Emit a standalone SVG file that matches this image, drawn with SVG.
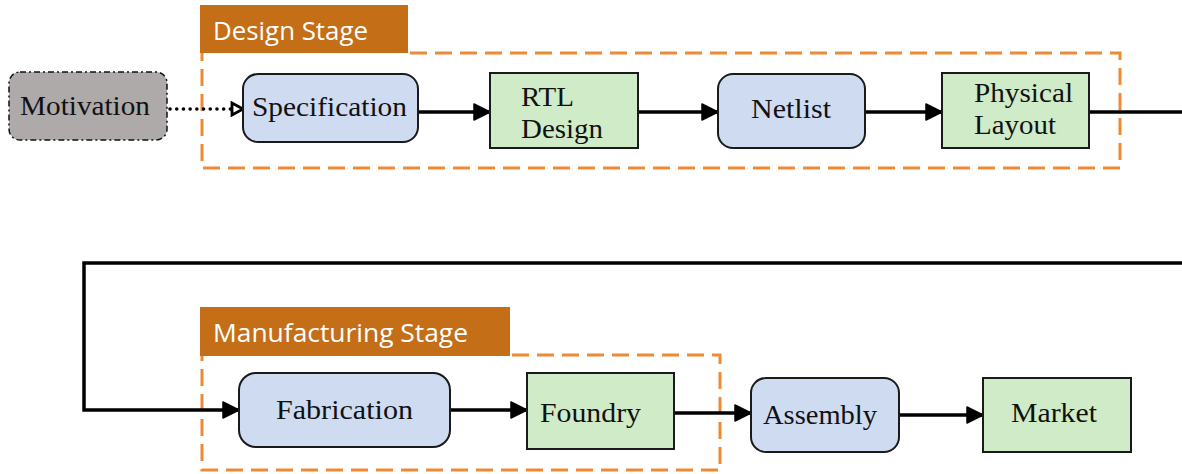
<svg xmlns="http://www.w3.org/2000/svg" width="1182" height="474" viewBox="0 0 1182 474">
  <defs>
    <marker id="arrow" viewBox="0 0 18 18" markerWidth="18" markerHeight="18" refX="17" refY="9" orient="auto" markerUnits="userSpaceOnUse">
      <path d="M1,1 L17,9 L1,17 Z" fill="#000" stroke="#000" stroke-width="1.5" stroke-linejoin="round"/>
    </marker>
    <marker id="open-arrow" viewBox="0 0 15 16" markerWidth="15" markerHeight="16" refX="13" refY="8" orient="auto" markerUnits="userSpaceOnUse">
      <path d="M2,2 L13,8 L2,14 Z" fill="#fff" stroke="#000" stroke-width="2.8" stroke-linejoin="miter"/>
    </marker>
    <style>
      .stage-tab { fill: #C46E18; }
      .stage-title { font-family: "Open Sans", "Liberation Sans", sans-serif; font-size: 25px; fill: #fff; }
      .stage-box { fill: none; stroke: #EE8A33; stroke-width: 3; stroke-dasharray: 17 8; }
      .proc { fill: #CEDBF1; stroke: #1a1a1a; stroke-width: 2; }
      .res { fill: #D0EBC8; stroke: #1a1a1a; stroke-width: 2; }
      .label { font-family: "Liberation Serif", "DejaVu Serif", serif; font-size: 27px; fill: #111; }
      .link { fill: none; stroke: #000; stroke-width: 3.5; }
    </style>
  </defs>

  <rect width="1182" height="474" fill="#fff"/>

  <!-- Design stage frame -->
  <g id="design-stage">
    <path class="stage-box" d="M410,53 L1120,53 L1120,168 L202,168 L202,53"/>
    <rect class="stage-tab" x="200" y="5" width="208" height="48"/>
    <text class="stage-title" x="213" y="40" textLength="155" lengthAdjust="spacingAndGlyphs">Design Stage</text>
  </g>

  <!-- Manufacturing stage frame -->
  <g id="manufacturing-stage">
    <path class="stage-box" d="M512,355 L720,355 L720,470 L202,470 L202,355"/>
    <rect class="stage-tab" x="200" y="307" width="310" height="49"/>
    <text class="stage-title" x="213" y="342" textLength="255" lengthAdjust="spacingAndGlyphs">Manufacturing Stage</text>
  </g>

  <!-- Connectors -->
  <g id="connectors">
    <line x1="170" y1="109" x2="243" y2="109" stroke="#000" stroke-width="3.5" stroke-linecap="round" stroke-dasharray="0.1 6.6" marker-end="url(#open-arrow)"/>
    <line class="link" x1="418" y1="112" x2="490" y2="112" marker-end="url(#arrow)"/>
    <line class="link" x1="638" y1="112" x2="718" y2="112" marker-end="url(#arrow)"/>
    <line class="link" x1="865" y1="112" x2="942" y2="112" marker-end="url(#arrow)"/>
    <line class="link" x1="1089" y1="112" x2="1182" y2="112"/>
    <path class="link" d="M1182,263 L84,263 L84,410 L239,410" marker-end="url(#arrow)"/>
    <line class="link" x1="450" y1="410" x2="527" y2="410" marker-end="url(#arrow)"/>
    <line class="link" x1="674" y1="413" x2="751" y2="413" marker-end="url(#arrow)"/>
    <line class="link" x1="899" y1="415" x2="983" y2="415" marker-end="url(#arrow)"/>
  </g>

  <g id="motivation">
    <rect x="9" y="72" width="158" height="68" rx="11" fill="#AEAAAA" stroke="#111" stroke-width="1.5" stroke-dasharray="6 3 2 3"/>
    <text class="label" x="20" y="115" textLength="130" lengthAdjust="spacingAndGlyphs">Motivation</text>
  </g>

  <g id="specification">
    <rect class="proc" x="243" y="74" width="175" height="68" rx="15"/>
    <text class="label" x="252" y="116" textLength="155" lengthAdjust="spacingAndGlyphs">Specification</text>
  </g>

  <g id="rtl-design">
    <rect class="res" x="490" y="73" width="148" height="75"/>
    <text class="label" x="521" y="106" textLength="53" lengthAdjust="spacingAndGlyphs">RTL</text>
    <text class="label" x="521" y="138" textLength="82" lengthAdjust="spacingAndGlyphs">Design</text>
  </g>

  <g id="netlist">
    <rect class="proc" x="718" y="74" width="147" height="74" rx="15"/>
    <text class="label" x="751" y="118" textLength="80" lengthAdjust="spacingAndGlyphs">Netlist</text>
  </g>

  <g id="physical-layout">
    <rect class="res" x="942" y="73" width="147" height="75"/>
    <text class="label" x="974" y="102" textLength="99" lengthAdjust="spacingAndGlyphs">Physical</text>
    <text class="label" x="974" y="134" textLength="82" lengthAdjust="spacingAndGlyphs">Layout</text>
  </g>

  <g id="fabrication">
    <rect class="proc" x="239" y="373" width="211" height="74" rx="17"/>
    <text class="label" x="276" y="419" textLength="137" lengthAdjust="spacingAndGlyphs">Fabrication</text>
  </g>

  <g id="foundry">
    <rect class="res" x="527" y="373" width="147" height="76"/>
    <text class="label" x="540" y="422" textLength="101" lengthAdjust="spacingAndGlyphs">Foundry</text>
  </g>

  <g id="assembly">
    <rect class="proc" x="751" y="378" width="148" height="74" rx="15"/>
    <text class="label" x="763" y="424" textLength="114" lengthAdjust="spacingAndGlyphs">Assembly</text>
  </g>

  <g id="market">
    <rect class="res" x="983" y="378" width="148" height="74"/>
    <text class="label" x="1011" y="422" textLength="86" lengthAdjust="spacingAndGlyphs">Market</text>
  </g>
</svg>
